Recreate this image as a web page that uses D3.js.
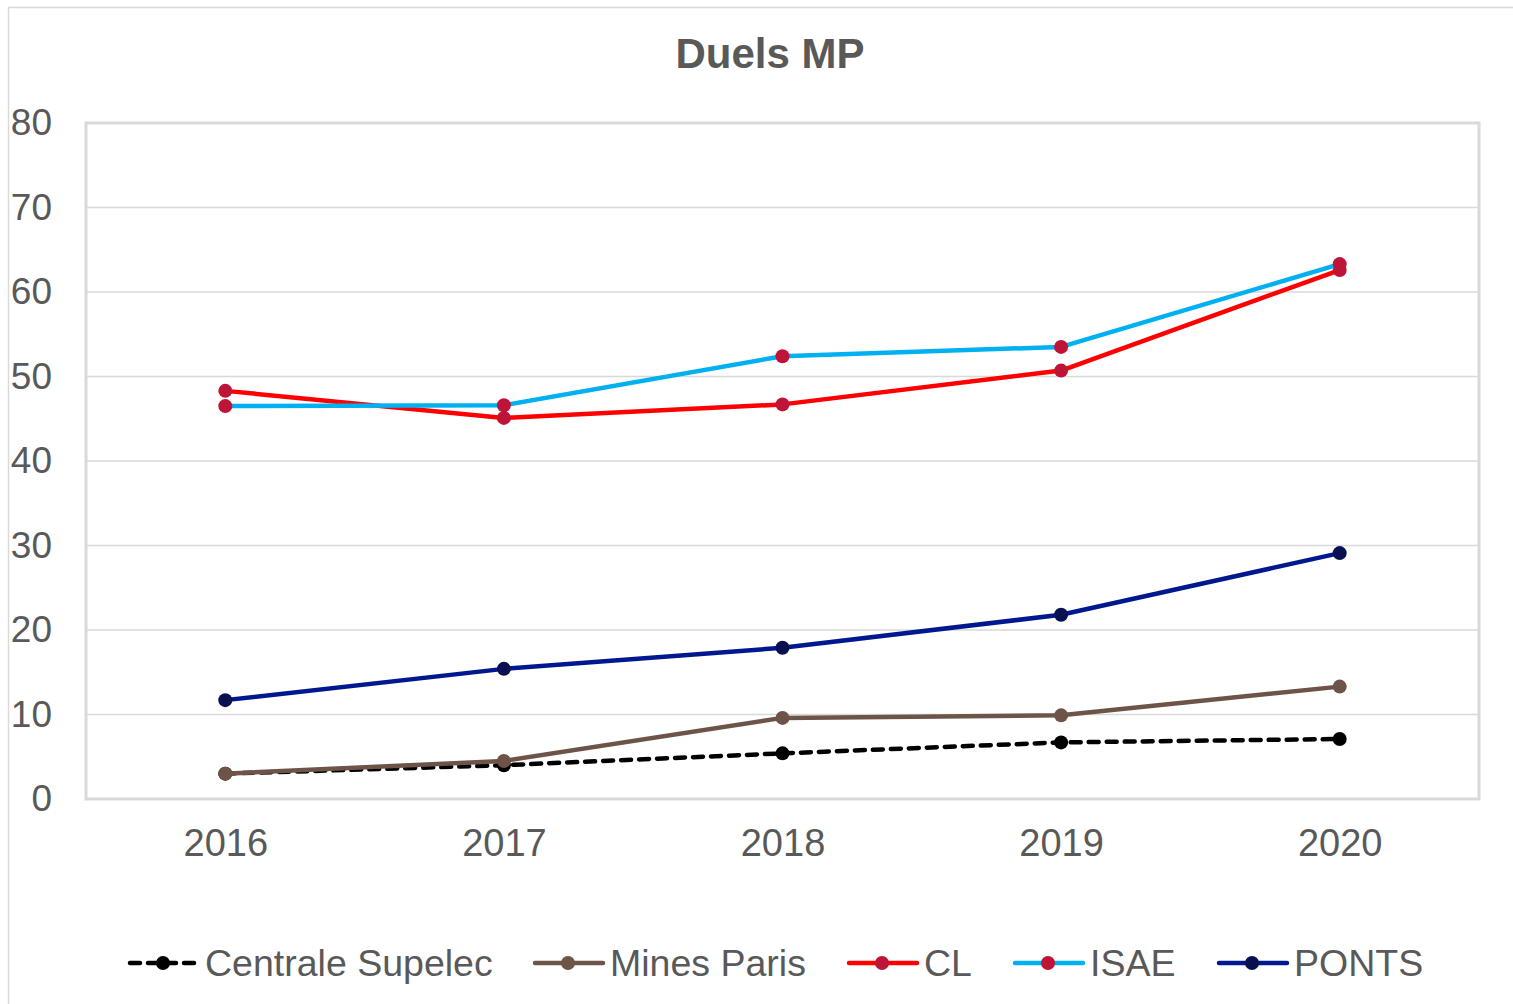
<!DOCTYPE html>
<html><head><meta charset="utf-8">
<script src="https://cdn.jsdelivr.net/npm/d3@7"></script>
<style>body{margin:0;background:#fff;}svg{display:block;font-family:"Liberation Sans",Arial,sans-serif;}</style>
</head><body><svg id="c" width="1513" height="1004"></svg>
<script>
const years = ["2016","2017","2018","2019","2020"];
const yTicks = [0,10,20,30,40,50,60,70,80];
const seriesNames = ["Centrale Supelec","Mines Paris","CL","ISAE","PONTS"];
const centrale = [3.0, 4.0, 5.4, 6.7, 7.1];
const mines = [3.0, 4.5, 9.6, 9.9, 13.3];
const cl = [48.3, 45.1, 46.7, 50.7, 62.6];
const isae = [46.5, 46.6, 52.4, 53.5, 63.3];
const ponts = [11.7, 15.4, 17.9, 21.8, 29.1];

const styles = [
  {line:"#000000", marker:"#000000", dash:"10 8"},
  {line:"#6e5448", marker:"#6e5448", dash:null},
  {line:"#ff0000", marker:"#be1438", dash:null},
  {line:"#00b0f0", marker:"#be1438", dash:null},
  {line:"#00188f", marker:"#08104f", dash:null}
];
const allValues = [centrale, mines, cl, isae, ponts];

const svg = d3.select("#c");
const txt = "#595959";
svg.append("rect").attr("x",8.5).attr("y",7.5).attr("width",1520).attr("height",1010)
  .attr("fill","none").attr("stroke","#d9d9d9").attr("stroke-width",1.5);

const L=86, R=1479, T=123, B=799;
const x = d3.scalePoint().domain(years).range([L,R]).padding(0.5);
const y = d3.scaleLinear().domain([0,80]).range([B,T]);

svg.append("g").selectAll("line").data(yTicks).join("line")
  .attr("x1",L).attr("x2",R).attr("y1",d=>y(d)).attr("y2",d=>y(d))
  .attr("stroke","#d9d9d9").attr("stroke-width",1.5);
svg.append("rect").attr("x",L).attr("y",T).attr("width",R-L).attr("height",B-T)
  .attr("fill","none").attr("stroke","#d9d9d9").attr("stroke-width",3);

const ya = svg.append("g").attr("transform",`translate(${L},0)`)
  .call(d3.axisLeft(y).tickValues(yTicks).tickSize(0).tickPadding(34));
ya.select(".domain").remove();
ya.selectAll("text").attr("font-size",37).attr("fill",txt).attr("font-family","Liberation Sans, Arial, sans-serif");

const xa = svg.append("g").attr("transform",`translate(0,${B})`)
  .call(d3.axisBottom(x).tickSize(0).tickPadding(30));
xa.select(".domain").remove();
xa.selectAll("text").attr("font-size",38).attr("fill",txt).attr("font-family","Liberation Sans, Arial, sans-serif");

svg.append("text").attr("x",770).attr("y",68).attr("text-anchor","middle")
  .attr("font-size",42).attr("font-weight","bold").attr("fill",txt).text("Duels MP");

const line = d3.line().x((d,i)=>x(years[i])).y(d=>y(d));
allValues.forEach((vals,k)=>{
  const s = styles[k];
  const g = svg.append("g");
  g.append("path").datum(vals).attr("d",line).attr("fill","none")
    .attr("stroke",s.line).attr("stroke-width",4.5).attr("stroke-linejoin","round")
    .attr("stroke-linecap","round").attr("stroke-dasharray",s.dash);
  g.selectAll("circle").data(vals).join("circle")
    .attr("cx",(d,i)=>x(years[i])).attr("cy",d=>y(d)).attr("r",7).attr("fill",s.marker);
});

const legX = [128, 533, 847, 1013, 1217];
const legY = 963;
seriesNames.forEach((n,k)=>{
  const s = styles[k];
  const g = svg.append("g");
  g.append("line").attr("x1",legX[k]+2).attr("x2",legX[k]+70).attr("y1",legY).attr("y2",legY)
    .attr("stroke",s.line).attr("stroke-width",4.5).attr("stroke-linecap","round")
    .attr("stroke-dasharray",s.dash?"10 8":null);
  g.append("circle").attr("cx",legX[k]+35).attr("cy",legY).attr("r",7).attr("fill",s.marker);
  g.append("text").attr("x",legX[k]+77).attr("y",legY).attr("dy","0.35em")
    .attr("font-size",37.5).attr("fill",txt).text(n);
});
</script></body></html>
